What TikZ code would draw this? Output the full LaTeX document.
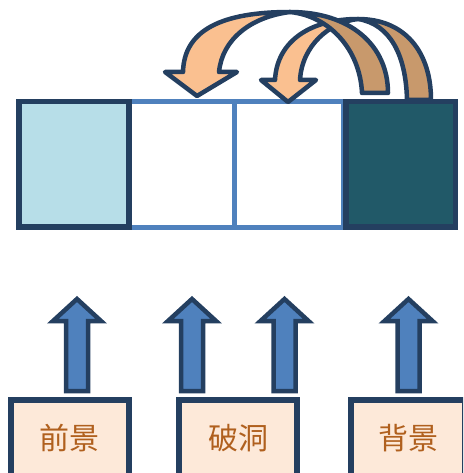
\documentclass[tikz,border=0pt]{standalone}
\usepackage{fontspec}
\newfontfamily\cjk{Noto Sans CJK SC}
\definecolor{navy}{HTML}{243F60}
\definecolor{midblue}{HTML}{4F81BD}
\definecolor{lightblue}{HTML}{B7DEE8}
\definecolor{darkteal}{HTML}{215968}
\definecolor{peach}{HTML}{FDE9D9}
\definecolor{lighttan}{HTML}{FAC090}
\definecolor{darktan}{HTML}{C8996C}
\definecolor{labelbrown}{HTML}{B0601E}
\tikzset{
  cellbox/.style={draw=navy, line width=5.5pt, inner sep=0pt, minimum height=125.3pt},
  holebox/.style={draw=midblue, fill=white, line width=5pt, inner sep=0pt, minimum height=125.3pt},
  labelbox/.style={draw=navy, fill=peach, line width=5.5pt, inner sep=0pt, minimum height=76pt,
     font=\cjk\fontsize{30}{36}\selectfont, text=labelbrown},
  uparrow/.style={draw=navy, fill=midblue, line width=4.5pt, line join=miter},
  frontband/.style={draw=navy, fill=lighttan, line width=4.5pt, line join=round},
  backband/.style={draw=navy, fill=darktan, line width=4.5pt, line join=round},
}
\begin{document}
\begin{tikzpicture}[x=1pt, y=-1pt]
\useasboundingbox (0,0) rectangle (463,473);
\clip (0,0) rectangle (463,473);
% layer squares
\node[holebox, minimum width=105pt] (s2) at (181.5,164.35) {};
\node[holebox, minimum width=109.5pt] (s3) at (288.75,164.35) {};
\node[cellbox, fill=lightblue, minimum width=110pt] (s1) at (74,164.35) {};
\node[cellbox, fill=darkteal, minimum width=109.7pt] (s4) at (400.85,164.35) {};
% curved arrow B (inner)
\path[frontband] (275,80) .. controls (277,40) and (312,19) .. (358,19)
  .. controls (330,22) and (302,45) .. (300,80)
  -- (316,80) -- (288,102) -- (261,80) -- cycle;
\path[backband] (358,19) .. controls (405,19) and (431,52) .. (431,100)
  -- (407,100) .. controls (406,55) and (390,24) .. (358,19) -- cycle;
% curved arrow A (outer)
\path[frontband] (183,72) .. controls (184,30) and (222,12) .. (290,12)
  .. controls (250,17) and (222,40) .. (219,72)
  -- (237,72) -- (197,96) -- (165,72) -- cycle;
\path[backband] (290,12) .. controls (350,12) and (388,45) .. (388,93)
  -- (362,93) .. controls (360,50) and (330,16) .. (290,12) -- cycle;
% up arrows
\foreach \cx/\nm in {77/u1, 192/u2, 284.5/u3, 408.5/u4}{
  \path[uparrow] (\cx,299) -- ++(24,22) -- ++(-13,0) -- ++(0,70) -- ++(-22,0)
    -- ++(0,-70) -- ++(-13,0) -- cycle;
  \coordinate (\nm) at (\cx,299);
}
% label boxes
\node[labelbox, minimum width=118.2pt] (fg) at (69.9,438) {前景};
\node[labelbox, minimum width=118pt] (hole) at (238,438) {破洞};
\node[labelbox, minimum width=114pt] (bg) at (408,438) {背景};
\end{tikzpicture}
\end{document}
